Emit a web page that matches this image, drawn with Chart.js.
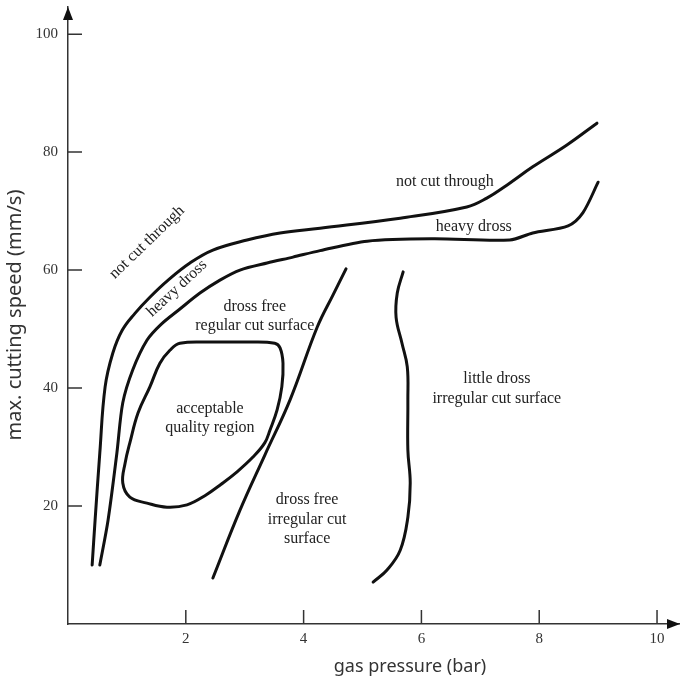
<!DOCTYPE html>
<html>
<head>
<meta charset="utf-8">
<script src="https://cdn.jsdelivr.net/npm/chart.js@4/dist/chart.umd.min.js"></script>
<style>
  html, body { margin: 0; padding: 0; background: #fff; }
  #wrap { width: 680px; height: 684px; position: relative; }
</style>
</head>
<body>
<div id="wrap"><canvas id="c"></canvas></div>
<script>
// Tick values on both axes
const pressureTicks = [2, 4, 6, 8, 10];
const speedTicks = [20, 40, 60, 80, 100];

// Boundary: "not cut through" above this curve
const cutLimitPressure = [0.41, 0.46, 0.54, 0.63, 0.76, 0.92, 1.14, 1.39, 1.70, 2.07, 2.46, 3.04, 3.60, 4.28, 5.64, 6.77, 7.11, 7.45, 7.89, 8.47, 8.98];
const cutLimitSpeed    = [10.0, 17.6, 29.0, 40.2, 45.9, 49.8, 52.7, 55.4, 58.3, 61.2, 63.4, 65.1, 66.3, 67.1, 68.8, 70.7, 72.2, 74.4, 77.5, 81.2, 84.9];

// Boundary: "heavy dross" between this curve and the one above
const drossLimitPressure = [0.54, 0.68, 0.83, 0.93, 1.10, 1.34, 1.58, 1.90, 2.24, 2.58, 2.92, 3.38, 3.82, 4.28, 5.08, 6.20, 7.50, 7.89, 8.49, 8.74, 9.00];
const drossLimitSpeed    = [10.0, 17.6, 29.0, 37.5, 43.1, 48.1, 50.8, 53.4, 56.1, 58.3, 60.0, 61.2, 62.2, 63.3, 64.9, 65.3, 65.1, 66.3, 67.5, 69.7, 74.9];

// Closed contour of the acceptable quality region
const qualityPressure = [2.46, 3.04, 3.51, 3.60, 3.65, 3.63, 3.55, 3.43, 3.34, 3.14, 2.87, 2.60, 2.33, 2.02, 1.68, 1.34, 1.05, 0.93, 0.97, 1.05, 1.19, 1.39, 1.56, 1.73, 1.90, 2.46];
const qualitySpeed    = [47.8, 47.8, 47.6, 46.8, 44.2, 40.2, 36.3, 32.9, 30.7, 28.3, 25.8, 23.7, 21.8, 20.2, 19.8, 20.5, 21.5, 23.9, 27.3, 30.7, 35.8, 40.2, 44.2, 46.4, 47.6, 47.8];

// Boundary between regular and irregular dross-free cuts
const regularLimitPressure = [2.46, 2.92, 3.34, 3.77, 4.23, 4.50, 4.72];
const regularLimitSpeed    = [7.8, 19.3, 28.6, 38.0, 50.3, 55.8, 60.2];

// Boundary between dross-free and little-dross cuts
const littleDrossPressure = [5.69, 5.59, 5.57, 5.67, 5.76, 5.77, 5.77, 5.81, 5.77, 5.64, 5.42, 5.18];
const littleDrossSpeed    = [59.7, 56.1, 52.0, 47.6, 43.6, 38.0, 29.5, 23.9, 18.1, 12.5, 9.2, 7.1];

// Region names and where they sit (pressure, speed)
const regionNotes = [
  { lines: ['not cut through'], x: 1.34, y: 64.7, angle: -44 },
  { lines: ['heavy dross'], x: 1.85, y: 56.9, angle: -43 },
  { lines: ['dross free', 'regular cut surface'], x: 3.17, y: 52.2, angle: 0 },
  { lines: ['acceptable', 'quality region'], x: 2.41, y: 34.9, angle: 0 },
  { lines: ['not cut through'], x: 6.40, y: 74.9, angle: 0 },
  { lines: ['heavy dross'], x: 6.89, y: 67.3, angle: 0 },
  { lines: ['dross free', 'irregular cut', 'surface'], x: 4.06, y: 17.7, angle: 0 },
  { lines: ['little dross', 'irregular cut surface'], x: 7.28, y: 39.85, angle: 0 }
];

const toPoints = (xs, ys) => xs.map((x, i) => ({ x, y: ys[i] }));

const curve = (xs, ys, tension) => ({
  data: toPoints(xs, ys),
  showLine: true,
  borderColor: '#111',
  borderWidth: 3,
  pointRadius: 0,
  fill: false,
  tension: tension,
  borderCapStyle: 'round',
  borderJoinStyle: 'round'
});

const AXIS_COLOR = '#333';
const serif = "'Liberation Serif', 'Times New Roman', serif";
const sans = "'Noto Sans', 'Open Sans', sans-serif";

const decorations = {
  id: 'decorations',
  afterDatasetsDraw(chart) {
    const { ctx, chartArea: a, scales: { x, y } } = chart;
    ctx.save();

    // inward tick marks
    ctx.strokeStyle = AXIS_COLOR;
    ctx.lineWidth = 1.5;
    ctx.beginPath();
    x.ticks.forEach(t => {
      const px = x.getPixelForValue(t.value);
      ctx.moveTo(px, a.bottom);
      ctx.lineTo(px, a.bottom - 14);
    });
    y.ticks.forEach(t => {
      const py = y.getPixelForValue(t.value);
      ctx.moveTo(a.left, py);
      ctx.lineTo(a.left + 14, py);
    });
    ctx.stroke();

    // arrow heads
    ctx.fillStyle = '#111';
    ctx.beginPath();
    ctx.moveTo(a.right, a.bottom);
    ctx.lineTo(a.right - 13, a.bottom - 5);
    ctx.lineTo(a.right - 13, a.bottom + 5);
    ctx.closePath();
    ctx.fill();
    ctx.beginPath();
    ctx.moveTo(a.left, a.top);
    ctx.lineTo(a.left - 5, a.top + 13);
    ctx.lineTo(a.left + 5, a.top + 13);
    ctx.closePath();
    ctx.fill();

    // region names
    ctx.fillStyle = '#222';
    ctx.font = '16px ' + serif;
    ctx.textAlign = 'center';
    ctx.textBaseline = 'middle';
    regionNotes.forEach(n => {
      const px = x.getPixelForValue(n.x);
      const py = y.getPixelForValue(n.y);
      const lh = 19.5;
      ctx.save();
      ctx.translate(px, py);
      ctx.rotate(n.angle * Math.PI / 180);
      n.lines.forEach((s, i) => {
        ctx.fillText(s, 0, (i - (n.lines.length - 1) / 2) * lh);
      });
      ctx.restore();
    });

    // axis titles
    ctx.fillStyle = AXIS_COLOR;
    ctx.font = '18px ' + sans;
    ctx.fillText('gas pressure (bar)', 410, 667);
    ctx.save();
    ctx.translate(15, 315);
    ctx.rotate(-Math.PI / 2);
    ctx.font = '20px ' + sans;
    ctx.fillText('max. cutting speed (mm/s)', 0, 0);
    ctx.restore();

    ctx.restore();
  }
};

new Chart(document.getElementById('c'), {
  type: 'scatter',
  data: {
    datasets: [
      curve(cutLimitPressure, cutLimitSpeed, 0.4),
      curve(drossLimitPressure, drossLimitSpeed, 0.3),
      curve(qualityPressure, qualitySpeed, 0.4),
      curve(regularLimitPressure, regularLimitSpeed, 0.4),
      curve(littleDrossPressure, littleDrossSpeed, 0.4)
    ]
  },
  options: {
    responsive: true,
    maintainAspectRatio: false,
    animation: false,
    layout: { padding: { top: 7, left: 0, right: 0, bottom: 0 } },
    plugins: { legend: { display: false }, tooltip: { enabled: false } },
    scales: {
      x: {
        type: 'linear',
        min: 0,
        max: 10.39,
        afterBuildTicks: s => { s.ticks = pressureTicks.map(v => ({ value: v })); },
        afterFit: s => { s.height = 60; s.paddingLeft = 0; s.paddingRight = 0; },
        grid: { display: true, drawOnChartArea: false, drawTicks: false },
        border: { display: true, color: AXIS_COLOR, width: 1.5 },
        ticks: { padding: 6, color: AXIS_COLOR, autoSkip: false, maxRotation: 0, font: { family: serif, size: 15 } }
      },
      y: {
        type: 'linear',
        min: 0,
        max: 104.6,
        afterBuildTicks: s => { s.ticks = speedTicks.map(v => ({ value: v })); },
        afterFit: s => { s.width = 68; s.paddingTop = 0; s.paddingBottom = 0; },
        grid: { display: true, drawOnChartArea: false, drawTicks: false },
        border: { display: true, color: AXIS_COLOR, width: 1.5 },
        ticks: { padding: 10, color: AXIS_COLOR, autoSkip: false, font: { family: serif, size: 15 } }
      }
    }
  },
  plugins: [decorations]
});
</script>
</body>
</html>
